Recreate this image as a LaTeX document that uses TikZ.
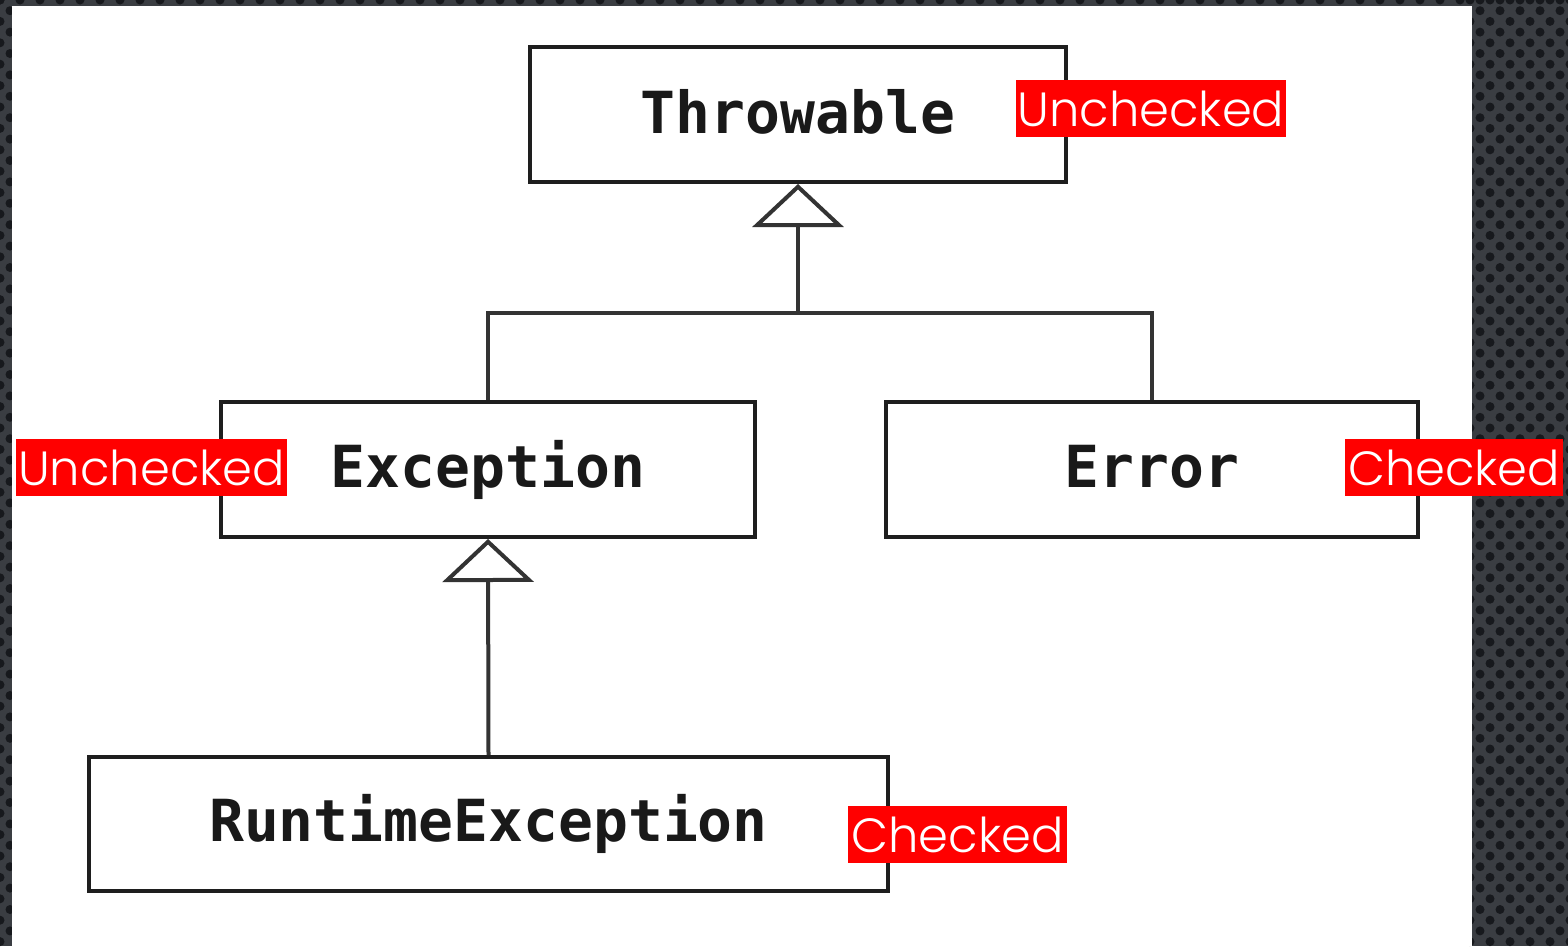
\documentclass[tikz,border=0pt]{standalone}
\usepackage{fontspec}
\setmonofont{DejaVu Sans Mono}
\newfontfamily\labelfont{Poppins}[UprightFont=* Light]
\usetikzlibrary{arrows.meta}
\definecolor{bgdark}{HTML}{3A3D42}
\definecolor{bgdot}{HTML}{17191D}
\definecolor{boxline}{HTML}{1E1E1E}
\definecolor{conline}{HTML}{333333}
\tikzset{
  classbox/.style={draw=boxline, line width=4pt, fill=white, inner sep=0pt,
    font=\ttfamily\bfseries\fontsize{58}{58}\selectfont, text=black!90},
  tag/.style={fill=red, text=white, inner sep=0pt, minimum height=57pt,
    font=\labelfont\fontsize{48}{48}\selectfont},
  conn/.style={draw=conline, line width=4pt},
  inherit/.style={conn, -{Triangle[open, width=91pt, length=43pt]}}
}
\newcommand{\up}[1]{\raisebox{6pt}{#1}}
\begin{document}
\begin{tikzpicture}[x=1pt, y=-1pt]
\useasboundingbox (0,0) rectangle (1568,946);
\fill[bgdark] (0,0) rectangle (1568,946);
% dotted texture
\foreach \r in {0,...,88} {
  \pgfmathsetmacro{\yy}{\r*10.7}
  \pgfmathsetmacro{\off}{mod(\r,2)*10}
  \foreach \c in {0,...,5} {
    \fill[bgdot] ({1470+\off+\c*20},\yy) circle (4.5);
  }
  \fill[bgdot] ({0+\off},\yy) circle (4.5);
}
\foreach \c in {0,...,78} {
  \fill[bgdot] ({\c*20},0) circle (4.5);
}
\fill[white] (12,6) rectangle (1472,946);

\node[classbox, minimum width=536pt, minimum height=135pt] (thr) at (798,114.5) {\up{Throwable}};
\node[classbox, minimum width=534pt, minimum height=135pt] (exc) at (488,469.5) {\up{Exception}};
\node[classbox, minimum width=532pt, minimum height=135pt] (err) at (1152,469.5) {\up{Error}};
\node[classbox, minimum width=799pt, minimum height=134pt] (rte) at (488.5,824) {\up{RuntimeException}};

\coordinate (jt) at (798,313);
\draw[conn] (exc.north) |- (jt) -| (err.north);
\draw[inherit] (jt) -- (thr.south);
\draw[inherit] (rte.north) -- (exc.south);

\node[tag, minimum width=270pt] (u1) at (1151,108.5) {Unchecked};
\node[tag, minimum width=271pt] (u2) at (151.5,467.5) {Unchecked};
\node[tag, minimum width=218pt] (c1) at (1454,467.5) {Checked};
\node[tag, minimum width=219pt] (c2) at (957.5,834.5) {Checked};
\end{tikzpicture}
\end{document}
